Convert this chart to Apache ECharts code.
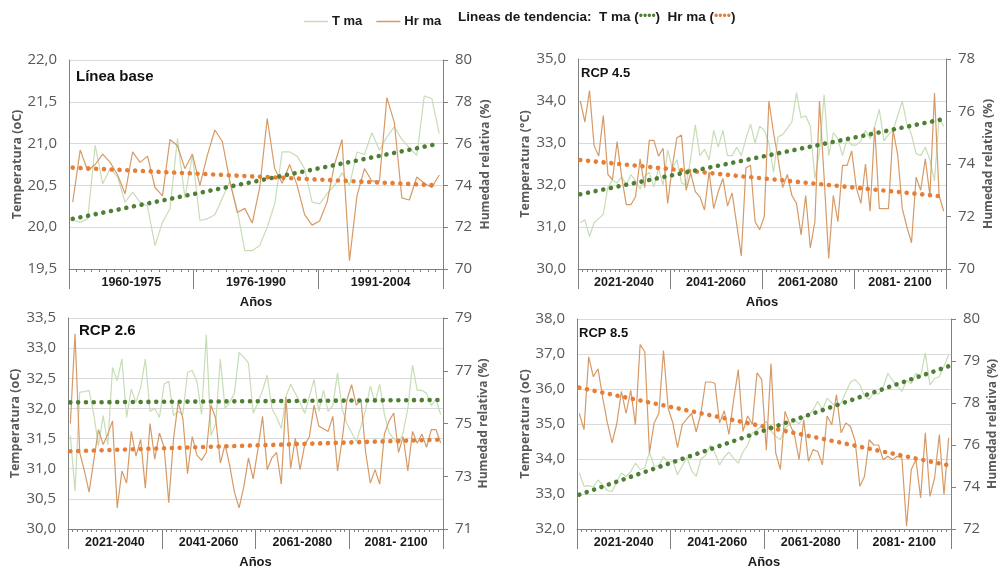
<!DOCTYPE html>
<html>
<head>
<meta charset="utf-8">
<script src="https://cdn.jsdelivr.net/npm/echarts@6/dist/echarts.min.js"></script>
<style>
  html, body { margin: 0; background: #fff; }
  #chart { width: 1000px; height: 574px; }
</style>
</head>
<body>
<div id="chart"></div>
<script>
// categorías (años) y grupos del eje x
const baseYears = [];
for (let y = 1960; y <= 2009; y++) baseYears.push(String(y));
const futureYears = [];
for (let y = 2021; y <= 2100; y++) futureYears.push(String(y));
const baseGroups = ['1960-1975', '1976-1990', '1991-2004'];
const futureGroups = ['2021-2040', '2041-2060', '2061-2080', '2081- 2100'];

// Línea base
const tBase = [
  20.08, 20.06, 20.10, 20.98, 20.52, 20.70, 20.60, 20.30, 20.42, 20.30,
  20.25, 19.78, 20.06, 20.22, 21.06, 20.35, 20.86, 20.08, 20.10, 20.15,
  20.35, 20.55, 20.20, 19.72, 19.72, 19.78, 20.00, 20.28, 20.90, 20.90,
  20.85, 20.70, 20.30, 20.28, 20.40, 20.50, 20.65, 20.50, 20.90, 20.87,
  21.13, 20.92, 21.08, 21.20, 21.05, 20.95, 20.86, 21.57, 21.54, 21.12
];
const hrBase = [
  73.2, 75.7, 74.7, 75.0, 75.5, 75.1, 74.5, 73.6, 75.6, 75.1,
  75.4, 73.9, 73.5, 76.2, 75.9, 74.8, 75.5, 74.0, 75.45, 76.65,
  76.1, 74.2, 72.7, 72.9, 72.2, 73.9, 77.2, 74.8, 74.1, 75.0,
  74.0, 72.6, 72.1, 72.3, 73.2, 75.0, 76.2, 70.4, 73.5, 74.8,
  74.2, 74.2, 78.2, 77.0, 73.4, 73.3, 74.4, 74.1, 73.9, 74.5
];
const tBaseTrend = [20.1, 21.0];
const hrBaseTrend = [74.85, 74.0];

// RCP 4.5
const t45 = [
  31.10, 31.17, 30.77, 31.10, 31.20, 31.30, 31.95, 32.12, 32.05, 32.20,
  32.00, 32.25, 32.10, 31.90, 32.20, 32.30, 31.95, 32.40, 32.00, 32.83,
  32.40, 32.60, 32.05, 32.00, 32.63, 33.43, 32.70, 32.85, 32.60, 33.30,
  32.90, 33.30, 32.70, 32.70, 32.90, 32.70, 33.10, 33.45, 33.00, 33.40,
  33.30, 33.00, 32.30, 33.15, 33.20, 33.35, 33.50, 34.20, 33.60, 33.65,
  33.40, 32.15, 32.80, 34.15, 32.70, 33.25, 33.10, 32.70, 33.10, 32.95,
  32.95, 33.05, 33.30, 33.10, 33.40, 33.80, 33.05, 33.20, 33.30, 33.65,
  34.00, 33.45, 33.20, 32.75, 32.70, 32.90, 32.60, 32.10, 33.60, 33.40
];
const hr45 = [
  76.4, 75.6, 76.8, 74.7, 74.3, 75.85, 73.6, 73.4, 74.85, 73.5,
  72.45, 72.45, 72.75, 74.2, 73.1, 74.9, 74.9, 74.3, 74.6, 72.5,
  73.9, 75.0, 75.1, 73.0, 73.65, 72.95, 72.75, 72.25, 73.7, 72.3,
  72.95, 73.45, 72.4, 72.9, 71.7, 70.5, 73.85, 73.95, 71.8, 71.5,
  72.0, 76.4, 75.2, 74.2, 73.1, 73.6, 72.8, 72.5, 71.3, 72.8,
  70.8, 71.8, 76.4, 73.5, 70.4, 72.8, 71.8, 73.95, 73.95, 74.5,
  73.1, 72.5, 74.0, 72.2, 75.4, 72.3, 72.3, 72.3, 75.3, 74.35,
  72.3, 71.6, 71.0, 73.5, 73.0, 74.2, 72.8, 76.7, 72.8, 72.2
];
const t45Trend = [31.78, 33.57];
const hr45Trend = [74.15, 72.76];

// RCP 2.6
const t26 = [
  31.55, 30.63, 32.27, 32.28, 32.30, 31.90, 31.38, 31.88, 31.40, 32.68,
  32.46, 32.82, 31.85, 32.32, 32.10, 32.35, 32.82, 31.95, 32.00, 31.85,
  32.40, 32.45, 31.88, 31.95, 31.90, 32.60, 32.63, 32.45, 31.90, 33.22,
  31.55, 31.75, 32.82, 32.00, 32.10, 32.25, 32.93, 32.85, 32.75, 31.92,
  32.10, 32.30, 32.55, 32.00, 31.85, 31.67, 32.20, 32.40, 32.25, 32.10,
  31.92, 32.20, 32.48, 31.95, 32.30, 31.95, 32.05, 32.59, 31.98, 31.75,
  31.60, 31.45, 31.70, 31.98, 32.37, 32.10, 32.40, 31.90, 31.60, 31.50,
  31.40, 31.60, 32.00, 32.72, 32.30, 32.30, 32.25, 32.05, 32.15, 31.90
];
const hr26 = [
  75.0, 78.4, 73.9, 73.2, 72.4, 73.6, 74.77, 74.2, 74.6, 75.1,
  71.8, 73.2, 72.74, 74.7, 73.76, 74.4, 72.55, 75.0, 73.65, 74.64,
  74.1, 72.0, 74.4, 75.8, 75.2, 73.1, 74.5, 73.8, 73.6, 73.9,
  75.7, 75.2, 73.5, 74.2, 73.4, 72.4, 71.8, 72.6, 73.7, 72.9,
  74.0, 75.27, 73.25, 73.7, 73.9, 72.7, 76.0, 73.3, 74.45, 73.25,
  74.2, 74.5, 75.7, 74.9, 74.8, 74.7, 75.27, 73.2, 74.4, 75.9,
  76.47, 75.7, 75.9, 73.9, 72.74, 73.25, 72.7, 74.6, 75.1, 75.4,
  73.9, 74.5, 73.2, 74.7, 74.25, 74.6, 74.1, 74.77, 74.77, 74.26
];
const t26Trend = [32.10, 32.14];
const hr26Trend = [73.95, 74.39];

// RCP 8.5
const t85 = [
  33.60, 33.22, 33.24, 33.20, 33.40, 33.26, 33.10, 33.07, 33.35, 33.60,
  33.50, 33.64, 33.88, 33.70, 33.75, 34.20, 33.80, 33.80, 34.07, 33.90,
  33.95, 33.55, 33.80, 34.05, 33.67, 33.50, 34.00, 34.10, 34.40, 34.17,
  33.83, 34.05, 34.20, 34.02, 33.88, 34.20, 34.40, 34.74, 34.83, 34.95,
  35.08, 34.80, 34.65, 34.55, 34.88, 35.00, 35.12, 35.00, 35.20, 35.25,
  35.40, 35.65, 35.40, 35.74, 35.60, 35.50, 35.60, 35.90, 36.20, 36.27,
  36.12, 35.80, 35.70, 35.90, 35.85, 36.05, 36.45, 36.25, 36.10, 35.93,
  36.25, 36.15, 36.45, 36.35, 37.03, 36.12, 36.30, 36.35, 36.65, 36.98
];
const hr85 = [
  77.5, 76.73, 80.2, 79.25, 79.63, 78.25, 77.05, 76.1, 77.0, 78.55,
  77.5, 78.6, 76.96, 80.78, 80.44, 75.63, 77.05, 77.5, 80.5, 77.75,
  77.05, 75.88, 76.96, 77.25, 77.5, 76.63, 77.5, 79.0, 79.0, 78.94,
  77.05, 77.63, 76.5, 78.13, 79.59, 76.65, 77.38, 77.0, 79.43, 79.13,
  75.75, 79.88, 75.63, 74.83, 77.6, 77.0, 76.5, 75.3, 77.21, 75.23,
  75.78, 75.69, 75.06, 77.38, 76.96, 78.4, 76.58, 77.05, 76.88, 76.18,
  74.04, 74.5, 76.25, 76.0, 76.0, 75.3, 75.46, 75.3, 75.46, 75.38,
  72.13, 74.83, 75.3, 73.48, 76.58, 73.55, 74.43, 76.5, 73.63, 76.34
];
const t85Trend = [32.98, 36.65];
const hr85Trend = [78.73, 75.03];
// el eje derecho de RCP 8.5 va de 72 a 82 cada 2, pero el original rotula las dos últimas marcas como 79 y 80
const hr85Labels = { 72: '72', 74: '74', 76: '76', 78: '78', 80: '79', 82: '80' };

const C_T = '#c6ddb6';
const C_HR = '#d69a66';
const C_T_TREND = '#4f7f35';
const C_HR_TREND = '#e67e36';
const AXIS = '#808080';
const LABEL = '#595959';
const BOLD = "'Liberation Sans', Arial, sans-serif";
const SANS = "'Open Sans', 'Liberation Sans', sans-serif";

const panels = [
  { title: 'Línea base', titlePos: [76, 69, 15], grid: { left: 69, top: 60, width: 374, height: 209 },
    years: baseYears, groups: baseGroups, t: tBase, hr: hrBase, tTrend: tBaseTrend, hrTrend: hrBaseTrend,
    tAxis: [19.5, 22, 0.5], hrAxis: [70, 80, 2], tName: 'Temperatura (oC)', gaps: [44, 37] },
  { title: 'RCP 4.5', titlePos: [581, 67, 13], grid: { left: 578, top: 59, width: 368, height: 210 },
    years: futureYears, groups: futureGroups, t: t45, hr: hr45, tTrend: t45Trend, hrTrend: hr45Trend,
    tAxis: [30, 35, 1], hrAxis: [70, 78, 2], tName: 'Temperatura (°C)', gaps: [46, 37] },
  { title: 'RCP 2.6', titlePos: [79, 323, 15], grid: { left: 68, top: 318, width: 375, height: 211 },
    years: futureYears, groups: futureGroups, t: t26, hr: hr26, tTrend: t26Trend, hrTrend: hr26Trend,
    tAxis: [30, 33.5, 0.5], hrAxis: [71, 79, 2], tName: 'Temperatura (oC)', gaps: [46, 35] },
  { title: 'RCP 8.5', titlePos: [579, 327, 13], grid: { left: 577, top: 319, width: 375, height: 210 },
    years: futureYears, groups: futureGroups, t: t85, hr: hr85, tTrend: t85Trend, hrTrend: hr85Trend,
    tAxis: [32, 38, 1], hrAxis: [72, 82, 2], hrLabels: hr85Labels, tName: 'Temperatura (oC)', gaps: [38, 36] }
];

const option = {
  animation: false,
  backgroundColor: '#fff',
  title: [],
  grid: [],
  xAxis: [],
  yAxis: [],
  series: [],
  legend: {
    left: 299, top: 10, icon: 'rect', itemWidth: 24, itemHeight: 1.5, itemGap: 14,
    data: ['T ma', 'Hr ma'],
    textStyle: { fontFamily: BOLD, fontWeight: 'bold', fontSize: 13, color: '#1a1a1a', padding: [0, 0, 0, -1] }
  },
  graphic: [{
    type: 'text', left: 458, top: 10,
    style: {
      text: 'Lineas de tendencia:  T ma ({g|••••})  Hr ma ({o|••••})',
      font: 'bold 13.5px ' + BOLD, fill: '#1a1a1a',
      rich: { g: { fill: C_T_TREND, fontSize: 12 }, o: { fill: C_HR_TREND, fontSize: 12 } }
    }
  }]
};

panels.forEach((p, k) => {
  option.title.push({
    text: p.title, left: p.titlePos[0], top: p.titlePos[1], padding: 0,
    textStyle: { fontFamily: BOLD, fontWeight: 'bold', fontSize: p.titlePos[2], color: '#111' }
  });
  option.grid.push(p.grid);

  // eje de años (marcas pequeñas) + eje de periodos (etiquetas y separadores)
  option.xAxis.push({
    gridIndex: k, type: 'category', data: p.years, boundaryGap: true,
    axisLine: { lineStyle: { color: AXIS, width: 1 } },
    axisTick: { show: true, interval: 0, length: 3, lineStyle: { color: AXIS } },
    axisLabel: { show: false }, splitLine: { show: false }
  });
  option.xAxis.push({
    gridIndex: k, type: 'category', data: p.groups, position: 'bottom', boundaryGap: true,
    axisLine: { show: false },
    axisTick: { show: true, interval: 0, length: 20, lineStyle: { color: AXIS } },
    axisLabel: { interval: 0, margin: 7, fontFamily: BOLD, fontWeight: 'bold', fontSize: 12.5, color: '#1a1a1a' },
    splitLine: { show: false },
    name: 'Años', nameLocation: 'middle', nameGap: 27,
    nameTextStyle: { fontFamily: BOLD, fontWeight: 'bold', fontSize: 13, color: '#1a1a1a' }
  });

  option.yAxis.push({
    gridIndex: k, type: 'value', position: 'left',
    min: p.tAxis[0], max: p.tAxis[1], interval: p.tAxis[2],
    axisLine: { show: true, lineStyle: { color: AXIS } },
    axisTick: { show: false },
    axisLabel: { margin: 12, fontFamily: SANS, fontSize: 15, color: LABEL,
      formatter: v => v.toFixed(1).replace('.', ',') },
    splitLine: { show: true, lineStyle: { color: '#d9d9d9' } },
    name: p.tName, nameLocation: 'middle', nameGap: p.gaps[0], nameRotate: 90,
    nameTextStyle: { fontFamily: SANS, fontWeight: 'bold', fontSize: 12.5, color: LABEL }
  });
  option.yAxis.push({
    gridIndex: k, type: 'value', position: 'right',
    min: p.hrAxis[0], max: p.hrAxis[1], interval: p.hrAxis[2],
    axisLine: { show: true, lineStyle: { color: AXIS } },
    axisTick: { show: true, length: 5, lineStyle: { color: AXIS } },
    axisLabel: { margin: 12, fontFamily: SANS, fontSize: 15, color: LABEL,
      formatter: v => (p.hrLabels ? p.hrLabels[v] : String(v)) },
    splitLine: { show: false },
    name: 'Humedad relativa (%)', nameLocation: 'middle', nameGap: p.gaps[1], nameRotate: 90,
    nameTextStyle: { fontFamily: SANS, fontWeight: 'bold', fontSize: 12, color: LABEL }
  });

  const last = p.years.length - 1;
  const dots = (color) => ({ color, width: 4.6, type: [0.01, 7.8], cap: 'round' });
  option.series.push(
    { name: 'T ma', type: 'line', xAxisIndex: 2 * k, yAxisIndex: 2 * k, data: p.t,
      symbol: 'none', color: C_T, lineStyle: { color: C_T, width: 1.2 }, z: 2 },
    { name: 'Hr ma', type: 'line', xAxisIndex: 2 * k, yAxisIndex: 2 * k + 1, data: p.hr,
      symbol: 'none', color: C_HR, lineStyle: { color: C_HR, width: 1.2 }, z: 3 },
    { name: 'Tendencia T ma', type: 'line', xAxisIndex: 2 * k, yAxisIndex: 2 * k,
      data: [[p.years[0], p.tTrend[0]], [p.years[last], p.tTrend[1]]],
      symbol: 'none', lineStyle: dots(C_T_TREND), z: 5 },
    { name: 'Tendencia Hr ma', type: 'line', xAxisIndex: 2 * k, yAxisIndex: 2 * k + 1,
      data: [[p.years[0], p.hrTrend[0]], [p.years[last], p.hrTrend[1]]],
      symbol: 'none', lineStyle: dots(C_HR_TREND), z: 4 }
  );
});

const chart = echarts.init(document.getElementById('chart'));
chart.setOption(option);
window.addEventListener('resize', () => chart.resize());
</script>
</body>
</html>
